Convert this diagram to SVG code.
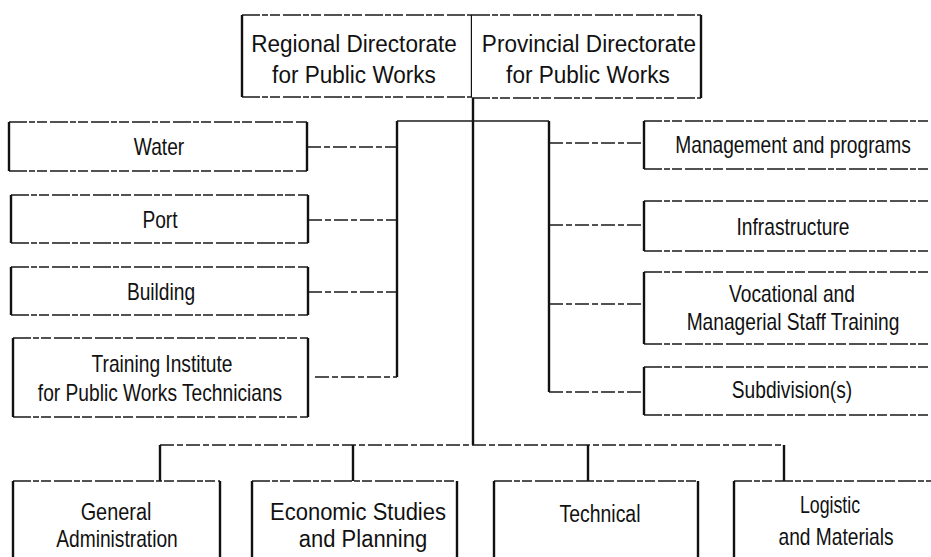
<svg xmlns="http://www.w3.org/2000/svg" width="931" height="557" viewBox="0 0 931 557">
<style>
text{font-family:"Liberation Sans",Arial,"DejaVu Sans",sans-serif;fill:#111;text-anchor:middle}
.t{font-size:24px}
.b{font-size:23.4px}
.bg{fill:#fff;stroke:none}
.hz{fill:none;stroke:#1a1a1a;stroke-width:1.6;stroke-dasharray:18 2 6 2 10 3}
.vt{fill:none;stroke:#111;stroke-width:2.4}
.trunk{fill:none;stroke:#111;stroke-width:2.4}
.bar{fill:none;stroke:#1a1a1a;stroke-width:1.5}
.br{fill:none;stroke:#1a1a1a;stroke-width:1.5;stroke-dasharray:14 3 6 3}
</style>
<rect width="931" height="557" fill="#fff"/>
<g id="connectors">
  <path class="trunk" d="M473 97V445"/>
  <path class="trunk" d="M397 121V377"/>
  <path class="trunk" d="M549 121V392"/>
  <path class="bar" d="M397 121H549"/>
  <path class="br" d="M307 147H397M308 220H397M308 292H397M315 377H397"/>
  <path class="br" d="M549 143H644M549 225H644M549 304H644M549 392H644"/>
  <path class="br" d="M160 445H784"/>
  <path class="trunk" d="M160 445V481M353 445V481M588 445V481M784 445V481"/>
</g>
<g id="regional">
  <rect class="bg" x="242" y="15" width="230" height="82"/>
  <path class="hz" d="M242 15H472M242 97H472"/>
  <path class="vt" d="M242 15V97M472 15V97"/>
  <text class="t" transform="translate(354 52) scale(0.94 1)">Regional Directorate</text>
  <text class="t" transform="translate(354 83) scale(0.94 1)">for Public Works</text>
</g>
<g id="provincial">
  <rect class="bg" x="472" y="15" width="229" height="83"/>
  <path class="hz" d="M472 15H701M472 98H701"/>
  <path class="vt" d="M701 15V98"/>
  <text class="t" transform="translate(589 52) scale(0.94 1)">Provincial Directorate</text>
  <text class="t" transform="translate(588 83) scale(0.94 1)">for Public Works</text>
</g>
<g id="water">
  <rect class="bg" x="9" y="122" width="298" height="49"/>
  <path class="hz" d="M9 122H307M9 171H307"/>
  <path class="vt" d="M9 122V171M307 122V171"/>
  <text class="b" transform="translate(159 155) scale(0.82 1)">Water</text>
</g>
<g id="port">
  <rect class="bg" x="11" y="195" width="297" height="48"/>
  <path class="hz" d="M11 195H308M11 243H308"/>
  <path class="vt" d="M11 195V243M308 195V243"/>
  <text class="b" transform="translate(160 228) scale(0.82 1)">Port</text>
</g>
<g id="building">
  <rect class="bg" x="11" y="267" width="297" height="48"/>
  <path class="hz" d="M11 267H308M11 315H308"/>
  <path class="vt" d="M11 267V315M308 267V315"/>
  <text class="b" transform="translate(161 300) scale(0.82 1)">Building</text>
</g>
<g id="training-institute">
  <rect class="bg" x="13" y="338" width="295" height="79"/>
  <path class="hz" d="M13 338H308M13 417H308"/>
  <path class="vt" d="M13 338V417M308 338V417"/>
  <text class="b" transform="translate(162 372) scale(0.82 1)">Training Institute</text>
  <text class="b" transform="translate(160 401) scale(0.82 1)">for Public Works Technicians</text>
</g>
<g id="management">
  <rect class="bg" x="644" y="121" width="298" height="48"/>
  <path class="hz" d="M644 121H942M644 169H942"/>
  <path class="vt" d="M644 121V169"/>
  <text class="b" transform="translate(793 153) scale(0.82 1)">Management and programs</text>
</g>
<g id="infrastructure">
  <rect class="bg" x="644" y="201" width="298" height="50"/>
  <path class="hz" d="M644 201H942M644 251H942"/>
  <path class="vt" d="M644 201V251"/>
  <text class="b" transform="translate(793 235) scale(0.82 1)">Infrastructure</text>
</g>
<g id="vocational">
  <rect class="bg" x="644" y="272" width="298" height="72"/>
  <path class="hz" d="M644 272H942M644 344H942"/>
  <path class="vt" d="M644 272V344"/>
  <text class="b" transform="translate(792 302) scale(0.82 1)">Vocational and</text>
  <text class="b" transform="translate(793 330) scale(0.82 1)">Managerial Staff Training</text>
</g>
<g id="subdivisions">
  <rect class="bg" x="644" y="367" width="298" height="48"/>
  <path class="hz" d="M644 367H942M644 415H942"/>
  <path class="vt" d="M644 367V415"/>
  <text class="b" transform="translate(792 398) scale(0.82 1)">Subdivision(s)</text>
</g>
<g id="general-administration">
  <rect class="bg" x="13" y="481" width="207" height="90"/>
  <path class="hz" d="M13 481H220"/>
  <path class="vt" d="M13 481V560M220 481V560"/>
  <text class="b" transform="translate(116 520) scale(0.85 1)">General</text>
  <text class="b" transform="translate(117 547) scale(0.82 1)">Administration</text>
</g>
<g id="economic-studies">
  <rect class="bg" x="252" y="481" width="205" height="90"/>
  <path class="hz" d="M252 481H457"/>
  <path class="vt" d="M252 481V560M457 481V560"/>
  <text class="b" transform="translate(358 520) scale(0.94 1)">Economic Studies</text>
  <text class="b" transform="translate(363 547) scale(0.94 1)">and Planning</text>
</g>
<g id="technical">
  <rect class="bg" x="494" y="481" width="204" height="90"/>
  <path class="hz" d="M494 481H698"/>
  <path class="vt" d="M494 481V560M698 481V560"/>
  <text class="b" transform="translate(600 522) scale(0.83 1)">Technical</text>
</g>
<g id="logistic">
  <rect class="bg" x="734" y="481" width="206" height="90"/>
  <path class="hz" d="M734 481H940"/>
  <path class="vt" d="M734 481V560"/>
  <text class="b" transform="translate(830 513) scale(0.76 1)">Logistic</text>
  <text class="b" transform="translate(836 545) scale(0.82 1)">and Materials</text>
</g>
</svg>
